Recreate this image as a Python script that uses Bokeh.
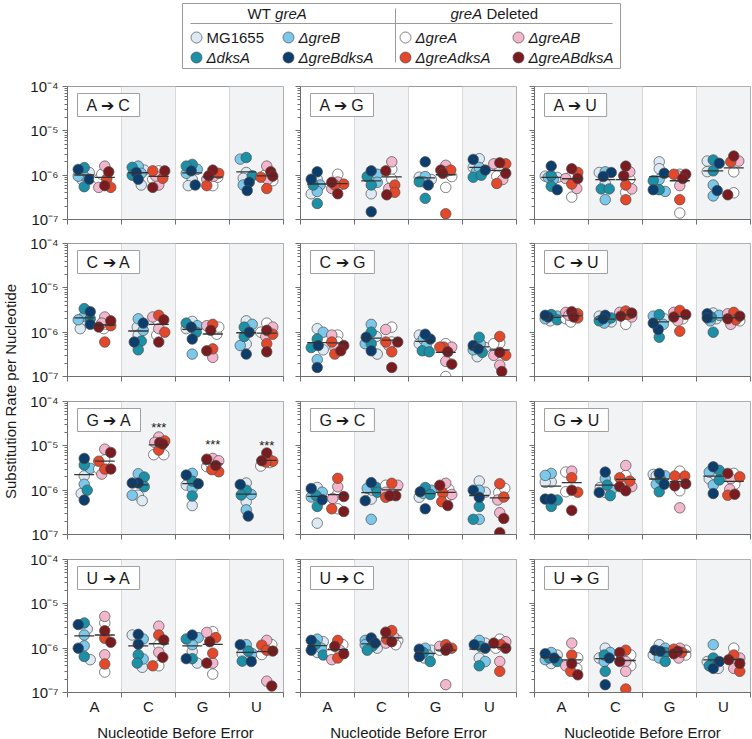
import numpy as np
from bokeh.plotting import figure
from bokeh.layouts import column, row, Spacer
from bokeh.models import (Range1d, FixedTicker, CustomJSTickFormatter, Label,
                          ColumnDataSource)
from bokeh.core.properties import value
from bokeh.embed import file_html
from bokeh.resources import INLINE

FONT = "Liberation Sans"
UNIT = 1e-6  # all values below are in units of 1e-6 substitutions per nucleotide

categories = ["A", "C", "G", "U"]
wt_strains = ["MG1655", "ΔgreB", "ΔdksA", "ΔgreBdksA"]
del_strains = ["ΔgreA", "ΔgreAB", "ΔgreAdksA", "ΔgreABdksA"]
wt_colors = ["#dde9f3", "#7cc8ea", "#1b90a7", "#0c3d6c"]
del_colors = ["#ffffff", "#f2b6cd", "#e4482b", "#7a1b1f"]

# each panel: 8 groups in order A-WT, A-del, C-WT, C-del, G-WT, G-del, U-WT, U-del
# each group: one list of replicate values per strain (order of wt_strains / del_strains)
A_to_C = [
    [[1.15, 0.78], [1.0, 0.95], [1.48, 0.55], [1.35, 0.81]],
    [[0.81, 1.05], [1.6, 0.53], [0.82, 0.53], [1.19, 0.58]],
    [[0.6, 1.3], [1.6, 1.1], [1.5, 1.0], [1.15, 0.81]],
    [[1.25, 0.81], [0.6, 0.95], [1.25, 0.85], [1.25, 0.53]],
    [[0.81, 0.58], [1.36, 1.1], [1.75, 1.6], [1.25, 0.6]],
    [[0.58, 0.9], [0.81, 0.95], [1.1, 0.58], [1.3, 0.97]],
    [[1.15, 0.85], [2.3, 0.6], [2.5, 0.97], [0.69, 0.45]],
    [[1.0, 0.75], [1.6, 0.8], [0.9, 0.5], [1.2, 0.95]],
]
A_to_G = [
    [[0.81, 0.38], [0.6, 0.43], [0.6, 0.23], [1.19, 0.81]],
    [[1.05, 0.6], [0.5, 0.7], [0.63, 0.6], [0.69, 0.38]],
    [[0.38, 0.9], [1.05, 0.69], [0.93, 0.6], [1.25, 0.15]],
    [[1.36, 0.81], [2.0, 0.5], [0.6, 0.41], [1.25, 0.36]],
    [[0.9, 0.8], [0.93, 0.71], [0.71, 0.3], [2.0, 0.6]],
    [[0.93, 0.53], [1.67, 1.2], [1.3, 0.135], [1.3, 1.1]],
    [[2.35, 1.5], [1.19, 1.5], [0.9, 1.0], [2.27, 1.3]],
    [[1.3, 0.95], [1.8, 0.8], [1.8, 0.65], [1.9, 1.1]],
]
A_to_U = [
    [[0.89, 0.95], [0.89, 0.8], [0.97, 0.56], [1.6, 0.47]],
    [[0.97, 0.32], [0.84, 0.5], [1.15, 0.63], [1.4, 0.84]],
    [[1.15, 0.66], [1.19, 0.28], [0.49, 0.49], [1.15, 0.93]],
    [[0.81, 0.41], [1.19, 0.49], [0.6, 0.28], [1.6, 0.97]],
    [[2.0, 1.4], [0.43, 0.8], [0.75, 0.47], [1.1, 0.47]],
    [[1.05, 0.14], [0.58, 1.0], [1.05, 0.28], [1.05, 0.84]],
    [[2.08, 1.2], [0.6, 0.34], [2.2, 1.25], [1.85, 0.45]],
    [[1.19, 0.4], [2.08], [2.0], [2.7, 0.36]],
]
C_to_A = [
    [[1.6, 1.2], [2.3, 1.9], [3.4, 2.0], [2.9, 1.5]],
    [[1.2, 1.5], [2.2, 1.6], [0.6, 1.4], [1.8, 1.3]],
    [[1.3, 0.86], [2.0, 1.1], [0.63, 0.4], [1.6, 0.6]],
    [[0.86, 1.8], [2.2, 1.2], [1.0, 2.4], [0.6, 1.9]],
    [[1.75, 1.2], [1.4, 0.32], [1.6, 1.0], [1.3, 0.7]],
    [[0.9, 1.3], [1.4, 0.27], [0.42, 1.5], [1.1, 0.38]],
    [[1.8, 0.54], [1.5, 0.5], [0.8, 1.3], [0.32, 1.0]],
    [[1.6, 1.0], [1.3, 0.8], [0.9, 0.55], [0.36, 1.1]],
]
C_to_G = [
    [[1.2, 0.4], [1.0, 0.24], [0.7, 0.45], [0.5, 0.16]],
    [[0.86, 0.6], [0.86, 0.45], [0.32, 0.6], [0.5, 0.38]],
    [[0.32, 0.8], [1.5, 0.55], [1.0, 0.55], [0.77, 0.38]],
    [[1.3, 0.6], [1.15, 0.5], [0.6, 0.36], [0.6, 0.16]],
    [[0.86, 0.55], [0.7, 0.5], [0.38, 0.36], [0.7, 0.9]],
    [[0.55, 0.1], [0.46, 0.22], [0.46, 0.46], [0.36, 0.19]],
    [[0.28, 0.45], [0.55, 0.4], [0.77, 0.35], [0.5, 0.42]],
    [[0.57, 0.55], [0.18, 0.3], [0.8, 0.3], [0.13, 0.35]],
]
C_to_U = [
    [[2.1, 1.8], [2.3, 2.0], [2.5, 1.9], [2.2, 2.4]],
    [[2.0, 1.7], [2.8, 2.4], [2.6, 2.1], [2.9, 2.2]],
    [[2.3, 1.7], [1.9, 1.6], [2.1, 1.8], [2.4, 2.0]],
    [[1.5, 2.6], [2.8, 2.2], [3.0, 2.5], [2.7, 2.3]],
    [[1.8, 2.0], [2.3, 1.5], [2.5, 0.77], [1.15, 1.6]],
    [[2.0, 2.4], [2.8, 1.8], [3.1, 1.05], [2.5, 2.2]],
    [[2.7, 2.0], [2.4, 1.8], [2.2, 1.0], [2.6, 2.1]],
    [[2.2, 1.8], [2.6, 1.5], [2.8, 1.9], [2.3, 2.0]],
]
G_to_A = [
    [[2.1, 0.84], [3.1, 1.36], [3.7, 1.0], [5.2, 0.6]],
    [[4.8, 3.0], [8.4, 2.3], [3.0, 4.5], [7.1, 3.0]],
    [[0.77, 0.58], [2.35, 0.77], [1.98, 1.2], [1.45, 1.45]],
    [[6.3, 6.3], [15.8, 12.0], [12.9, 8.0], [11.9, 11.0]],
    [[1.3, 0.45], [2.4, 1.1], [1.6, 0.74], [2.2, 1.4]],
    [[3.4, 4.0], [5.2, 4.6], [2.6, 2.9], [5.0, 3.6]],
    [[1.45, 0.55], [0.8, 0.36], [1.0, 0.78], [1.34, 0.26]],
    [[3.5, 4.2], [5.0], [4.5, 4.3], [6.9, 4.6]],
]
G_to_C = [
    [[1.15, 0.18], [0.9, 0.7], [0.75, 0.43], [1.09, 0.61]],
    [[0.82, 0.38], [1.19, 0.65], [1.85, 0.38], [0.72, 0.33]],
    [[0.63, 1.0], [1.1, 0.22], [1.15, 0.9], [1.48, 0.58]],
    [[1.29, 1.0], [1.29, 0.9], [1.43, 0.69], [0.75, 0.75]],
    [[0.92, 0.69], [1.0, 0.85], [1.15, 0.8], [0.92, 0.38]],
    [[1.05, 0.69], [1.43, 0.8], [0.86, 0.55], [1.29, 0.45]],
    [[1.61, 0.9], [1.0, 0.22], [0.43, 0.22], [1.0, 0.69]],
    [[0.89, 1.1], [0.31, 0.6], [1.4, 0.7], [0.23, 0.11]],
]
G_to_U = [
    [[1.53, 1.5], [2.39, 2.15], [0.43, 0.6], [0.63, 0.63]],
    [[2.56, 0.92], [2.69], [1.91, 0.9], [1.0, 0.35]],
    [[1.15, 0.89], [1.81, 1.0], [1.3, 0.75], [2.56, 0.89]],
    [[2.15, 1.4], [3.6, 1.2], [1.6, 1.9], [1.2, 0.97]],
    [[2.27, 2.1], [2.1, 1.36], [1.8, 0.92], [2.39, 1.36]],
    [[2.69, 0.97], [1.6, 0.4], [2.08, 2.08], [1.25, 1.4]],
    [[1.8, 2.2], [2.56, 1.3], [2.8, 1.7], [3.36, 0.84]],
    [[2.39, 1.36], [1.81, 1.05], [2.0, 0.77], [2.39, 0.81]],
]
U_to_A = [
    [[2.69, 0.55], [1.98, 1.13], [3.7, 0.65], [3.4, 1.0]],
    [[3.7, 0.29], [5.2, 0.71], [1.67, 0.44], [2.47, 1.36]],
    [[1.98, 0.37], [1.61, 0.57], [0.71, 0.46], [2.05, 1.23]],
    [[1.19, 0.4], [3.14, 0.81], [1.98, 0.4], [1.53, 0.62]],
    [[0.84, 0.46], [1.73, 1.2], [1.61, 0.58], [1.98, 0.58]],
    [[2.35, 0.26], [2.27, 0.46], [1.73, 0.77], [1.4, 0.46]],
    [[0.66, 0.75], [1.2, 0.75], [0.86, 0.51], [1.2, 0.5]],
    [[1.2, 0.72], [1.5, 0.18], [1.17, 0.9], [0.86, 0.14]],
]
U_to_C = [
    [[1.4, 0.8], [1.6, 1.0], [1.2, 0.7], [1.5, 0.9]],
    [[1.2, 0.8], [0.9, 0.55], [1.5, 0.6], [1.1, 0.75]],
    [[1.3, 1.0], [1.5, 1.2], [1.1, 0.9], [1.7, 1.3]],
    [[1.5, 1.2], [1.8, 1.3], [2.5, 1.6], [2.3, 1.4]],
    [[0.9, 0.6], [1.0, 0.7], [0.8, 0.5], [0.95, 0.65]],
    [[1.0, 0.9], [1.1, 0.15], [1.2, 1.0], [1.0, 0.9]],
    [[1.3, 0.6], [1.5, 0.5], [1.1, 0.4], [1.0, 1.2]],
    [[1.6, 1.0], [1.4, 0.5], [1.2, 0.3], [1.3, 1.0]],
]
U_to_G = [
    [[0.7, 0.45], [0.8, 0.55], [0.6, 0.5], [0.75, 0.6]],
    [[0.6, 0.35], [1.3, 0.4], [0.7, 0.3], [0.45, 0.25]],
    [[1.0, 0.6], [0.8, 0.5], [0.7, 0.3], [0.6, 0.15]],
    [[0.7, 0.4], [0.5, 0.3], [0.9, 0.12], [0.8, 0.5]],
    [[1.2, 0.7], [1.0, 0.6], [0.8, 0.5], [0.9, 0.85]],
    [[0.9, 0.7], [1.0, 0.6], [0.95, 0.8], [0.85, 0.75]],
    [[0.5, 0.35], [1.2, 0.45], [0.6, 0.4], [0.5, 0.35]],
    [[1.0, 0.5], [0.6, 0.35], [0.7, 0.3], [0.55, 0.45]],
]

panel_titles = [["A ➔ C", "A ➔ G", "A ➔ U"],
                ["C ➔ A", "C ➔ G", "C ➔ U"],
                ["G ➔ A", "G ➔ C", "G ➔ U"],
                ["U ➔ A", "U ➔ C", "U ➔ G"]]
panel_data = [[A_to_C, A_to_G, A_to_U],
              [C_to_A, C_to_G, C_to_U],
              [G_to_A, G_to_C, G_to_U],
              [U_to_A, U_to_C, U_to_G]]
# significance markers: (panel, category, height of the *** text)
significance = [("G ➔ A", "C", 2.6e-5), ("G ➔ A", "G", 1.05e-5), ("G ➔ A", "U", 1.0e-5)]

y_label = "Substitution Rate per Nucleotide"
x_label = "Nucleotide Before Error"

# ---------------------------------------------------------------- layout
FW, FH = 216, 133
PX_X = FW / len(categories)
PX_DEC = FH / 3.0
GROUP_OFF = 0.19
MEAN_HALF = 0.185
YLW = 22
col_borders = [(67 - YLW, 5), (12, 5), (13, 2)]
row_borders = [(17, 14), (10, 15), (10, 15), (10, 47)]
TXT = "#1a1a1a"
AXC = "#6e6e6e"


def swarm(vals, dmin=6.5, maxoff=6):
    ys = np.log10(np.asarray(vals)) * PX_DEC
    order = np.argsort(-ys)
    placed = []
    offs = np.zeros(len(ys))
    for i in order:
        best = None
        for k in range(0, maxoff + 1):
            for s in ([0] if k == 0 else [k, -k]):
                if all((s - ox) ** 2 + (ys[i] - oy) ** 2 >= dmin ** 2 for ox, oy in placed):
                    best = s
                    break
            if best is not None:
                break
        if best is None:
            best = max(range(-maxoff, maxoff + 1),
                       key=lambda s: min((s - ox) ** 2 + (ys[i] - oy) ** 2 for ox, oy in placed))
        offs[i] = best
        placed.append((best, ys[i]))
    return offs / PX_X


sup_code = """
const sup = {'-':'\u207b','0':'\u2070','1':'\u00b9','2':'\u00b2','3':'\u00b3','4':'\u2074',
             '5':'\u2075','6':'\u2076','7':'\u2077','8':'\u2078','9':'\u2079'};
const e = Math.round(Math.log10(tick));
return '10' + String(e).split('').map(c => sup[c]).join('');
"""

y_major = [1e-7, 1e-6, 1e-5, 1e-4]
y_minor = [k * 10.0 ** e for e in (-7, -6, -5) for k in range(2, 10)]


def make_panel(r, c):
    title = panel_titles[r][c]
    data = panel_data[r][c]
    lb, rb = col_borders[c]
    tb, bb = row_borders[r]
    p = figure(frame_width=FW, frame_height=FH, x_range=Range1d(0, len(categories)),
               y_range=Range1d(1e-7, 1e-4), y_axis_type="log",
               output_backend="svg", toolbar_location=None,
               min_border_left=lb, min_border_right=rb,
               min_border_top=tb, min_border_bottom=bb)
    p.background_fill_color = "white"
    p.border_fill_color = "white"
    p.outline_line_color = "#9a9a9a"

    # shaded alternate categories
    shaded = [i for i in range(len(categories)) if i % 2 == 1]
    p.quad(left=shaded, right=[i + 1 for i in shaded], bottom=[1e-7] * len(shaded),
           top=[1e-4] * len(shaded), fill_color="#f2f3f5", line_color=None, level="image")
    p.ygrid.grid_line_color = None
    p.xgrid.ticker = FixedTicker(ticks=list(range(1, len(categories))))
    p.xgrid.grid_line_color = "#d9d9d9"
    p.xgrid.grid_line_width = 1

    # y axis
    p.yaxis.ticker = FixedTicker(ticks=y_major, minor_ticks=y_minor)
    p.yaxis.axis_line_color = AXC
    p.yaxis.major_tick_line_color = AXC
    p.yaxis.minor_tick_line_color = AXC
    p.yaxis.major_tick_out = 5
    p.yaxis.major_tick_in = 0
    p.yaxis.minor_tick_out = 3
    p.yaxis.minor_tick_in = 0
    p.yaxis.major_label_text_font = FONT
    p.yaxis.major_label_text_color = TXT
    if c == 0:
        p.yaxis.formatter = CustomJSTickFormatter(code=sup_code)
        p.yaxis.major_label_text_font_size = "15px"
        p.yaxis.major_label_standoff = 4
    else:
        p.yaxis.formatter = CustomJSTickFormatter(code="return '';")
        p.yaxis.major_label_text_font_size = "0px"
        p.yaxis.major_label_standoff = 0

    # x axis
    p.xaxis.ticker = FixedTicker(ticks=[i + 0.5 for i in range(len(categories))],
                                 minor_ticks=list(range(len(categories) + 1)))
    p.xaxis.axis_line_color = AXC
    p.xaxis.major_tick_line_color = None
    p.xaxis.major_tick_out = 3
    p.xaxis.major_tick_in = 0
    p.xaxis.minor_tick_line_color = AXC
    p.xaxis.minor_tick_out = 5
    p.xaxis.minor_tick_in = 0
    p.xaxis.major_label_text_font = FONT
    p.xaxis.major_label_text_color = TXT
    if r == len(panel_titles) - 1:
        p.xaxis.formatter = CustomJSTickFormatter(args=dict(cats=categories),
                                                  code="return cats[Math.floor(tick)] || '';")
        p.xaxis.major_label_text_font_size = "15px"
        p.xaxis.major_label_standoff = 0
        p.xaxis.axis_label = x_label
        p.xaxis.axis_label_text_font = FONT
        p.xaxis.axis_label_text_font_size = "15px"
        p.xaxis.axis_label_text_font_style = "normal"
        p.xaxis.axis_label_text_color = TXT
        p.xaxis.axis_label_standoff = 6
    else:
        p.xaxis.formatter = CustomJSTickFormatter(code="return '';")
        p.xaxis.major_label_text_font_size = "0px"
        p.xaxis.major_label_standoff = 0

    # points and means (arithmetic mean of each group)
    xs, ys, cols = [], [], []
    mx0, mx1, my = [], [], []
    for gi, group in enumerate(data):
        ci = gi // 2
        is_del = gi % 2 == 1
        center = ci + 0.5 + (GROUP_OFF if is_del else -GROUP_OFF)
        palette = del_colors if is_del else wt_colors
        vals, vcols = [], []
        for si, reps in enumerate(group):
            for v in reps:
                vals.append(v * UNIT)
                vcols.append(palette[si])
        offs = swarm(vals)
        xs += list(center + offs)
        ys += vals
        cols += vcols
        mx0.append(center - MEAN_HALF)
        mx1.append(center + MEAN_HALF)
        my.append(float(np.mean(vals)))
    src = ColumnDataSource(dict(x=xs, y=ys, color=cols))
    p.scatter("x", "y", source=src, size=10.5, fill_color="color",
              line_color="#4d4d4d", line_width=0.7)
    p.segment(x0=mx0, y0=my, x1=mx1, y1=my, line_color="#333333", line_width=1.3)

    sig = [(categories.index(cat) + 0.5 + GROUP_OFF, h) for (t, cat, h) in significance if t == title]
    if sig:
        p.text(x=[s[0] for s in sig], y=[s[1] for s in sig], text=["***"] * len(sig),
               text_align="center", text_baseline="middle", text_font=value(FONT),
               text_font_size="13px", text_color=TXT)

    lab = Label(x=0, y=1e-4, x_offset=10, y_offset=-7, text=title,
                text_align="left", text_baseline="top", text_font=FONT,
                text_font_size="16px", text_color=TXT,
                background_fill_color="white", border_line_color="#a0a0a0",
                border_line_width=1,
                padding=dict(left=9, right=9, top=3, bottom=3))
    p.add_layout(lab)
    return p


# ---------------------------------------------------------------- legend
LW, LH = 438, 65
lg = figure(frame_width=LW, frame_height=LH, x_range=Range1d(0, LW), y_range=Range1d(LH, 0),
            x_axis_location=None, y_axis_location=None, min_border=1,
            output_backend="svg", toolbar_location=None)
lg.grid.visible = False
lg.outline_line_color = "#9a9a9a"
lg.background_fill_color = "white"
lg.segment(x0=[8], y0=[20], x1=[LW - 8], y1=[20], line_color="#9a9a9a", line_width=1)
lg.segment(x0=[213], y0=[5], x1=[213], y1=[59], line_color="#9a9a9a", line_width=1)
lg.text(x=[65], y=[10], text=["WT"], text_align="left", text_baseline="middle",
        text_font=value(FONT), text_font_size="15px", text_color=TXT)
lg.text(x=[92.6], y=[10], text=["greA"], text_align="left", text_baseline="middle",
        text_font=value(FONT), text_font_size="15px", text_font_style="italic", text_color=TXT)
lg.text(x=[268], y=[10], text=["greA"], text_align="left", text_baseline="middle",
        text_font=value(FONT), text_font_size="15px", text_font_style="italic", text_color=TXT)
lg.text(x=[303.9], y=[10], text=["Deleted"], text_align="left", text_baseline="middle",
        text_font=value(FONT), text_font_size="15px", text_color=TXT)

leg_x = [14, 106, 14, 106, 223, 336, 223, 336]
leg_y = [34, 34, 54, 54, 34, 34, 54, 54]
leg_names = wt_strains + del_strains
leg_colors = wt_colors + del_colors
lg.scatter(x=leg_x, y=leg_y, size=11, fill_color=leg_colors, line_color="#4d4d4d", line_width=0.7)
for nm, x, y in zip(leg_names, leg_x, leg_y):
    lg.text(x=[x + 10], y=[y], text=[nm], text_align="left", text_baseline="middle",
            text_font=value(FONT), text_font_size="15px",
            text_font_style="normal" if nm == "MG1655" else "italic", text_color=TXT)

# ---------------------------------------------------------------- y label
grid_h = sum(t + FH + b for t, b in row_borders)
yl = figure(width=YLW, height=grid_h, x_range=Range1d(0, YLW), y_range=Range1d(0, grid_h),
            x_axis_location=None, y_axis_location=None, min_border=0,
            output_backend="svg", toolbar_location=None)
yl.grid.visible = False
yl.outline_line_color = None
yl.text(x=[10], y=[grid_h - 322], text=[y_label], angle=np.pi / 2,
        text_align="center", text_baseline="middle", text_font=value(FONT),
        text_font_size="15px", text_color=TXT)

cols = [column(*[make_panel(r, c) for r in range(4)]) for c in range(3)]
body = row(yl, *cols)
top = row(Spacer(width=181, height=LH + 2), lg)
layout = column(top, body)
layout.margin = (2, 0, -4, 0)

open("out.html", "w").write(file_html(layout, INLINE))
